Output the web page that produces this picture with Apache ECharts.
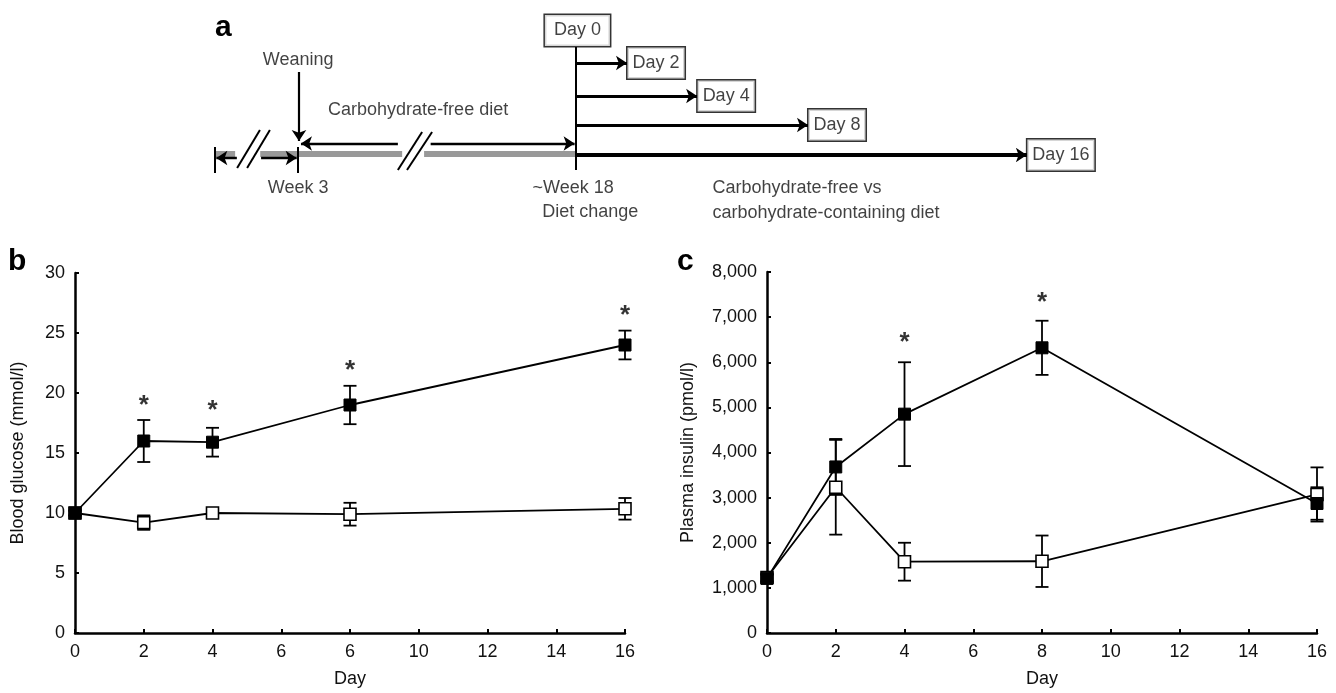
<!DOCTYPE html>
<html><head><meta charset="utf-8">
<script src="https://cdn.jsdelivr.net/npm/echarts@6/dist/echarts.min.js"></script>
<style>html,body{margin:0;padding:0;background:#fff}#c{width:1336px;height:693px}</style>
</head><body><div id="c"></div>
<script>
// ---------- data (panels b and c) ----------
const days = [0, 2, 4, 8, 16];
const xTickLabelsB = ['0', '2', '4', '6', '6', '10', '12', '14', '16'];
const xTickLabelsC = ['0', '2', '4', '6', '8', '10', '12', '14', '16'];
const glucoseFreeMean = [10.0, 16.0, 15.9, 19.0, 24.0];      // carbohydrate-free (filled squares)
const glucoseFreeSem  = [0.2, 1.75, 1.2, 1.6, 1.2];
const glucoseContMean = [10.0, 9.2, 10.0, 9.9, 10.35];       // carbohydrate-containing (open squares)
const glucoseContSem  = [0.2, 0.6, 0.3, 0.95, 0.9];
const glucoseStarDays = [2, 4, 8, 16];
const glucoseStarY    = [19.5, 19.1, 22.4, 27.0];
const insulinFreeMean = [1210, 3680, 4850, 6320, 2870];
const insulinFreeSem  = [80, 620, 1150, 600, 360];
const insulinContMean = [1230, 3230, 1580, 1590, 3070];
const insulinContSem  = [80, 1050, 420, 570, 600];
const insulinStarDays = [4, 8];
const insulinStarY    = [6590, 7470];

// ---------- schematic panel a (text + layout in diagram units) ----------
const dayBoxLabels = ['Day 2', 'Day 4', 'Day 8', 'Day 16'];
const diagram = {
  arrowEnds: [1.79, 4.25, 8.14, 15.82],
  arrowRows: [6.3, 9.6, 12.5, 15.5],
  start: -12.67, week3: -9.75, day0: 0, lineRow: 15.4
};

const FONT = 'Liberation Sans, Arial, Helvetica, sans-serif';
const TXT = '#111';

const chart = echarts.init(document.getElementById('c'), null, {renderer: 'canvas'});

function axisCommon() {
  return {
    axisLine: {show: true, onZero: false, lineStyle: {color: '#000', width: 2.5}},
    axisTick: {show: true, inside: true, length: 4, lineStyle: {color: '#000', width: 2}},
    axisLabel: {color: TXT, fontSize: 18, fontFamily: FONT, margin: 10},
    splitLine: {show: false},
    nameTextStyle: {color: TXT, fontSize: 18, fontFamily: FONT}
  };
}

function xAxisFor(gridIndex, labels) {
  const a = axisCommon();
  return Object.assign(a, {
    type: 'value', gridIndex, min: 0, max: 16, interval: 2,
    name: 'Day', nameLocation: 'middle', nameGap: 37,
    axisLabel: Object.assign(a.axisLabel, {formatter: v => labels[Math.round(v / 2)]})
  });
}

function errSeries(xi, yi, means, sems, z) {
  return {
    type: 'custom', xAxisIndex: xi, yAxisIndex: yi, z,
    data: days.map((d, i) => [d, means[i] - sems[i], means[i] + sems[i]]),
    encode: {x: 0, y: [1, 2]},
    renderItem: (params, api) => {
      const x = api.value(0);
      const lo = api.coord([x, api.value(1)]);
      const hi = api.coord([x, api.value(2)]);
      const w = 6.5;
      const style = {stroke: '#000', lineWidth: 1.8};
      return {type: 'group', children: [
        {type: 'line', shape: {x1: lo[0], y1: lo[1], x2: hi[0], y2: hi[1]}, style},
        {type: 'line', shape: {x1: lo[0] - w, y1: lo[1], x2: lo[0] + w, y2: lo[1]}, style},
        {type: 'line', shape: {x1: hi[0] - w, y1: hi[1], x2: hi[0] + w, y2: hi[1]}, style}
      ]};
    }
  };
}

function lineSeries(xi, yi, means, filled, z) {
  return {
    type: 'line', xAxisIndex: xi, yAxisIndex: yi, z,
    data: days.map((d, i) => [d, means[i]]),
    symbol: 'rect', symbolSize: 12, showSymbol: true,
    lineStyle: {color: '#000', width: 1.8},
    itemStyle: filled ? {color: '#000', borderColor: '#000', borderWidth: 1}
                      : {color: '#fff', borderColor: '#000', borderWidth: 1.6},
    emphasis: {disabled: true}
  };
}

function starSeries(xi, yi, xs, ys) {
  return {
    type: 'scatter', xAxisIndex: xi, yAxisIndex: yi, z: 6,
    data: xs.map((d, i) => [d, ys[i]]),
    symbol: 'circle', symbolSize: 1, itemStyle: {color: 'rgba(0,0,0,0)'},
    label: {show: true, position: 'inside', formatter: '*', color: '#000',
            fontSize: 26, fontWeight: 'bold', fontFamily: FONT, offset: [0, 7]},
    emphasis: {disabled: true}
  };
}

// ---------- panel a helpers ----------
function arrowLines(segs, symbols, width) {
  return {
    type: 'lines', coordinateSystem: 'cartesian2d', xAxisIndex: 0, yAxisIndex: 0,
    data: segs.map(s => ({coords: s})),
    symbol: symbols, symbolSize: 11,
    lineStyle: {color: '#000', width: width, opacity: 1, curveness: 0},
    z: 5, silent: true
  };
}
function plainLines(segs, color, width, z) {
  return {
    type: 'lines', coordinateSystem: 'cartesian2d', xAxisIndex: 0, yAxisIndex: 0,
    data: segs.map(s => ({coords: s})),
    symbol: ['none', 'none'],
    lineStyle: {color, width, opacity: 1, curveness: 0},
    z, silent: true
  };
}
function textSeries(items, position, padding) {
  return {
    type: 'scatter', xAxisIndex: 0, yAxisIndex: 0, z: 7,
    data: items.map(t => ({name: t.text, value: [t.x, t.y]})),
    symbol: 'circle', symbolSize: 1, itemStyle: {color: 'rgba(0,0,0,0)'},
    label: Object.assign({
      show: true, position, distance: 0, formatter: '{b}', color: TXT,
      fontSize: 18, fontFamily: FONT, lineHeight: 22
    }, padding ? {backgroundColor: '#fff', borderColor: '#000', borderWidth: 1.5, padding} : {}),
    emphasis: {disabled: true}, silent: true
  };
}

const D = diagram, R = D.lineRow;
const dayArrowSegs = D.arrowEnds.map((e, i) => [[D.day0, D.arrowRows[i]], [e, D.arrowRows[i]]]);
const letterStyle = {fontSize: 30, fontWeight: 'bold', fontFamily: FONT, color: '#000'};

const option = {
  animation: false,
  backgroundColor: '#fff',
  title: [
    {text: 'a', left: 210, top: 8, textStyle: letterStyle},
    {text: 'b', left: 3, top: 242, textStyle: letterStyle},
    {text: 'c', left: 672, top: 242, textStyle: letterStyle}
  ],
  grid: [
    {left: 205.5, top: 0, width: 912, height: 230},
    {left: 75, top: 273, width: 550, height: 364},
    {left: 767, top: 272, width: 550, height: 365}
  ],
  xAxis: [
    {type: 'value', gridIndex: 0, min: -13, max: 19, show: false},
    xAxisFor(1, xTickLabelsB),
    xAxisFor(2, xTickLabelsC)
  ],
  yAxis: [
    {type: 'value', gridIndex: 0, min: 0, max: 23, inverse: true, show: false},
    Object.assign(axisCommon(), {type: 'value', gridIndex: 1, min: 0, max: 30, interval: 5,
      name: 'Blood glucose (mmol/l)', nameLocation: 'middle', nameGap: 48}),
    (() => { const a = axisCommon(); return Object.assign(a, {type: 'value', gridIndex: 2, min: 0, max: 8000, interval: 1000,
      name: 'Plasma insulin (pmol/l)', nameLocation: 'middle', nameGap: 70,
      axisLabel: Object.assign(a.axisLabel, {formatter: v => v.toLocaleString('en-US')})}); })()
  ],
  series: [
    // ----- panel a -----
    plainLines([
      [[D.start, R], [-11.96, R]],
      [[-11.08, R], [-6.1, R]],
      [[-5.33, R], [D.day0, R]]
    ], '#999', 6, 2),
    plainLines([
      [[D.start, 14.7], [D.start, 17.3]],
      [[D.week3, 14.7], [D.week3, 17.3]],
      [[D.day0, 4.7], [D.day0, 17.0]],
      [[-11.89, 16.8], [-11.09, 13.0]],
      [[-11.54, 16.8], [-10.74, 13.0]],
      [[-6.25, 17.0], [-5.4, 13.2]],
      [[-5.93, 17.0], [-5.05, 13.2]],
      [[D.day0, R], [D.arrowEnds[3], R]]
    ], '#000', 2, 4),
    arrowLines([[[-11.9, 15.8], [D.start + 0.05, 15.8]], [[-11.05, 15.8], [D.week3 - 0.05, 15.8]]], ['none', 'arrow'], 2.4),
    arrowLines([[[D.week3 + 0.03, 7.2], [D.week3 + 0.03, 14.1]]], ['none', 'arrow'], 2.2),
    arrowLines([[[-6.25, 14.35], [-9.65, 14.35]], [[-5.1, 14.35], [-0.05, 14.35]]], ['none', 'arrow'], 2.4),
    arrowLines(dayArrowSegs, ['none', 'arrow'], 2.8),
    textSeries(dayBoxLabels.map((t, i) => ({text: t, x: D.arrowEnds[i], y: D.arrowRows[i]})), 'right', [5, 5, 4, 5]),
    textSeries([{text: 'Day 0', x: 0.05, y: 3.05}], 'inside', [5, 9, 4, 9]),
    textSeries([
      {text: 'Weaning', x: -9.75, y: 6.0},
      {text: 'Carbohydrate-free diet', x: -5.54, y: 11.0},
      {text: 'Week 3', x: -9.75, y: 18.8},
      {text: '~Week 18', x: -0.1, y: 18.8},
      {text: 'Diet change', x: 0.5, y: 21.2}
    ], 'inside', null),
    textSeries([
      {text: 'Carbohydrate-free vs', x: 4.77, y: 18.8},
      {text: 'carbohydrate-containing diet', x: 4.77, y: 21.3}
    ], 'right', null),
    // ----- panel b -----
    errSeries(1, 1, glucoseContMean, glucoseContSem, 2),
    errSeries(1, 1, glucoseFreeMean, glucoseFreeSem, 2),
    lineSeries(1, 1, glucoseContMean, false, 3),
    lineSeries(1, 1, glucoseFreeMean, true, 4),
    starSeries(1, 1, glucoseStarDays, glucoseStarY),
    // ----- panel c -----
    errSeries(2, 2, insulinContMean, insulinContSem, 2),
    errSeries(2, 2, insulinFreeMean, insulinFreeSem, 2),
    lineSeries(2, 2, insulinContMean, false, 3),
    lineSeries(2, 2, insulinFreeMean, true, 4),
    starSeries(2, 2, insulinStarDays, insulinStarY)
  ]
};
chart.setOption(option);
</script>
</body></html>
